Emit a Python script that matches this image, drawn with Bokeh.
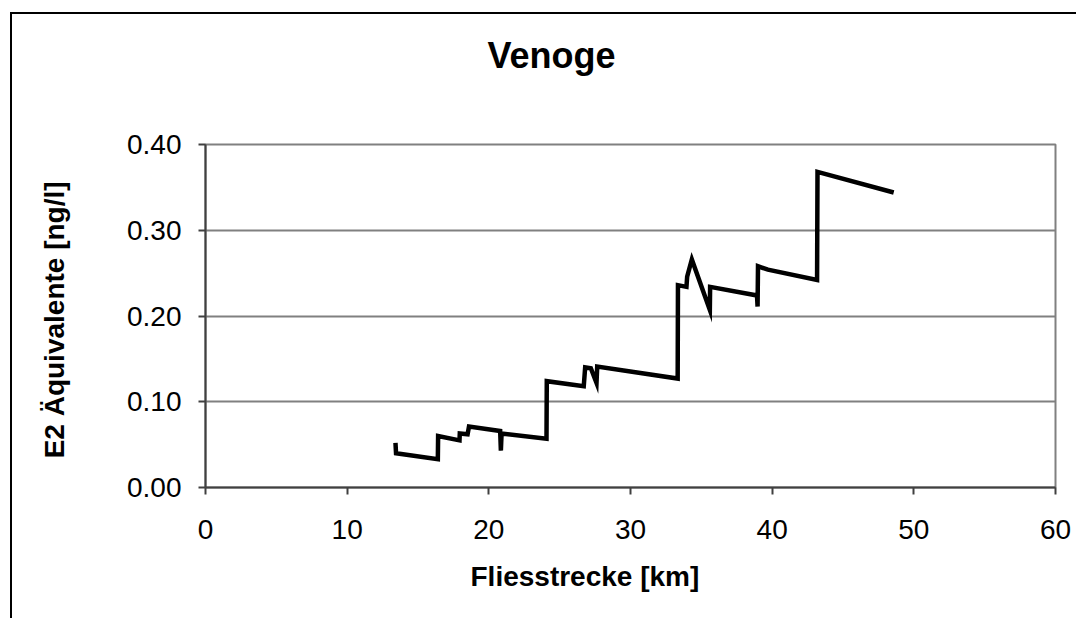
from bokeh.plotting import figure
from bokeh.models import Range1d, Title, FixedTicker, NumeralTickFormatter
from bokeh.embed import file_html
from bokeh.resources import INLINE

# Data (x: Fliesstrecke km, y: E2 Äquivalente ng/l)
km = [13.41, 13.45, 16.40, 16.42, 17.93, 17.95, 18.50, 18.60, 20.80, 20.85, 20.90,
      24.07, 24.09, 26.70, 26.80, 27.20, 27.60, 27.65, 33.33, 33.35, 33.95, 34.00,
      34.33, 35.60, 35.62, 38.93, 38.97, 39.00, 39.70, 43.17, 43.20, 48.58]
e2 = [0.052, 0.040, 0.033, 0.060, 0.055, 0.063, 0.062, 0.071, 0.066, 0.043, 0.063,
      0.057, 0.124, 0.118, 0.140, 0.139, 0.122, 0.141, 0.127, 0.236, 0.234, 0.246,
      0.266, 0.207, 0.234, 0.224, 0.211, 0.258, 0.254, 0.242, 0.368, 0.344]

x_ticks = [0, 10, 20, 30, 40, 50, 60]
y_ticks = [0.0, 0.1, 0.2, 0.3, 0.4]

title_text = "Venoge"
x_label = "Fliesstrecke  [km]"
y_label = "E2 Äquivalente  [ng/l]"

FONT = "Liberation Sans"

p = figure(width=1066, height=606, output_backend="svg", toolbar_location=None,
           x_range=Range1d(0, 60), y_range=Range1d(0, 0.4),
           min_border_left=193, min_border_top=130, min_border_right=23,
           min_border_bottom=133,
           styles={"margin-left": "10px", "margin-top": "12px",
                   "border-left": "2px solid #000", "border-top": "2px solid #000"})

p.line(km, e2, line_color="black", line_width=4.5, line_join="miter")

p.background_fill_color = "white"
p.border_fill_color = "white"
p.outline_line_color = "#808080"
p.outline_line_width = 2

p.xgrid.visible = False
p.ygrid.grid_line_color = "#808080"
p.ygrid.grid_line_width = 2

for ax in (p.xaxis[0], p.yaxis[0]):
    ax.axis_line_color = "#404040"
    ax.axis_line_width = 2
    ax.major_tick_line_color = "#404040"
    ax.major_tick_line_width = 2
    ax.major_tick_in = 0
    ax.major_tick_out = 7
    ax.minor_tick_line_color = None
    ax.major_label_text_font = FONT
    ax.major_label_text_font_size = "28px"
    ax.major_label_text_color = "black"

p.xaxis.ticker = FixedTicker(ticks=x_ticks)
p.yaxis.ticker = FixedTicker(ticks=y_ticks)
p.yaxis.formatter = NumeralTickFormatter(format="0.00")
p.xaxis.major_label_standoff = 25
p.yaxis.major_label_standoff = 17

p.yaxis.axis_label = y_label
p.yaxis.axis_label_text_font = FONT
p.yaxis.axis_label_text_font_size = "28px"
p.yaxis.axis_label_text_font_style = "bold"
p.yaxis.axis_label_text_color = "black"
p.yaxis.axis_label_standoff = 54

# spacer panel between plot frame and title
p.add_layout(Title(text=" ", standoff=45, text_font=FONT, text_font_size="20px",
                   text_color="white"), "above")
p.add_layout(Title(text=title_text, align="left", offset=282, standoff=0,
                   text_font=FONT, text_font_size="36px", text_font_style="bold",
                   text_color="black"), "above")
p.add_layout(Title(text=x_label, align="left", offset=265, standoff=34,
                   text_font=FONT, text_font_size="28px", text_font_style="bold",
                   text_color="black"), "below")

open("out.html", "w").write(file_html(p, INLINE))
